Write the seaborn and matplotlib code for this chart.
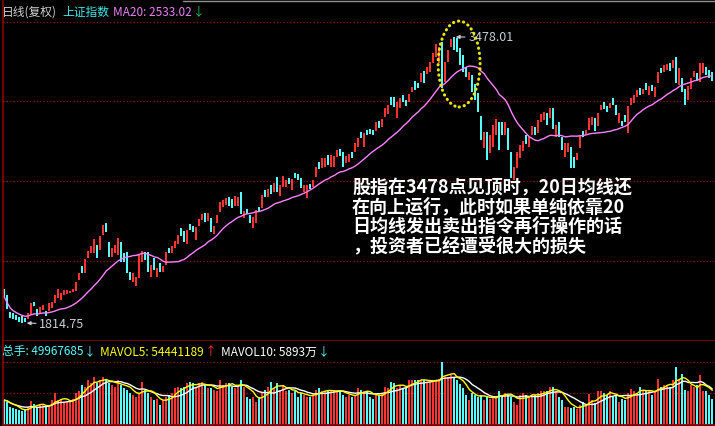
import matplotlib
matplotlib.use("Agg")
import matplotlib.pyplot as plt
from matplotlib.patches import Ellipse
from matplotlib.lines import Line2D
import pandas as pd
import seaborn as sns

# daily candles (Shanghai composite, adjusted)
opens = [
    2013, 1978, 1879, 1873, 1862, 1850, 1856, 1844, 1838, 1862,
    1937, 1896, 1873, 1891, 1885, 1885, 1902, 1931, 1960, 1949,
    1978, 1984, 1989, 1995, 2001, 2065, 2146, 2106, 2193, 2222,
    2222, 2269, 2239, 2327, 2396, 2286, 2199, 2222, 2210, 2286,
    2222, 2228, 2111, 2053, 2030, 2077, 2170, 2228, 2228, 2082,
    2193, 2082, 2164, 2111, 2152, 2251, 2222, 2251, 2274, 2367,
    2350, 2274, 2391, 2379, 2298, 2379, 2414, 2455, 2408, 2426,
    2333, 2396, 2460, 2490, 2501, 2548, 2536, 2495, 2495, 2577,
    2426, 2478, 2443, 2367, 2396, 2490, 2484, 2588, 2548, 2617,
    2577, 2664, 2553, 2606, 2606, 2658, 2588, 2687, 2681, 2658,
    2577, 2542, 2623, 2606, 2664, 2751, 2716, 2722, 2792, 2722,
    2722, 2780, 2827, 2809, 2745, 2751, 2809, 2809, 2838, 2926,
    2838, 2937, 2943, 2937, 2931, 2990, 2955, 3013, 3030, 3129,
    3129, 3007, 3065, 3141, 3112, 3100, 3158, 3222, 3211, 3216,
    3280, 3263, 3275, 3327, 3362, 3327, 3449, 3216, 3333, 3420,
    3478, 3472, 3414, 3373, 3304, 3228, 3257, 3205, 3152, 3019,
    2833, 2926, 2804, 2838, 2908, 2984, 2984, 2908, 2949, 2809,
    2646, 2716, 2775, 2815, 2908, 2838, 2908, 2955, 2920, 2984,
    2995, 3036, 3007, 3065, 2897, 2984, 2897, 2780, 2809, 2838,
    2780, 2763, 2833, 2931, 2908, 2937, 2966, 3007, 2961, 3054,
    3100, 3077, 3065, 3123, 3083, 2978, 2990, 3024, 2920, 3083,
    3094, 3129, 3182, 3147, 3211, 3141, 3199, 3129, 3211, 3298,
    3275, 3286, 3327, 3298, 3362, 3199, 3240, 3176, 3112, 3176,
    3245, 3269, 3216, 3269, 3304, 3286, 3275,
]
closes = [
    1966, 1896, 1844, 1838, 1832, 1821, 1815, 1818, 1873, 1931,
    1914, 1856, 1908, 1920, 1856, 1931, 1937, 1978, 2013, 1989,
    2007, 2007, 2001, 2013, 2053, 2106, 2106, 2187, 2234, 2263,
    2303, 2193, 2321, 2385, 2344, 2199, 2251, 2269, 2309, 2170,
    2170, 2106, 2065, 2106, 2082, 2210, 2234, 2181, 2111, 2152,
    2123, 2135, 2111, 2146, 2228, 2222, 2263, 2292, 2327, 2321,
    2286, 2356, 2356, 2344, 2373, 2420, 2449, 2402, 2455, 2344,
    2379, 2443, 2519, 2530, 2542, 2495, 2484, 2553, 2548, 2449,
    2466, 2449, 2396, 2431, 2472, 2460, 2559, 2548, 2594, 2565,
    2629, 2577, 2617, 2670, 2646, 2623, 2652, 2658, 2646, 2600,
    2617, 2617, 2594, 2646, 2722, 2711, 2775, 2775, 2734, 2792,
    2786, 2821, 2786, 2722, 2786, 2798, 2775, 2862, 2891, 2891,
    2920, 2908, 2914, 2908, 2984, 2949, 3001, 3065, 3083, 3083,
    3071, 3100, 3123, 3100, 3077, 3147, 3187, 3170, 3182, 3269,
    3211, 3304, 3333, 3385, 3437, 3420, 3182, 3333, 3402, 3466,
    3402, 3391, 3315, 3275, 3245, 3275, 3158, 3112, 3042, 2879,
    2926, 2763, 2908, 2966, 3001, 2821, 2908, 2984, 2821, 2658,
    2722, 2809, 2850, 2873, 2856, 2897, 2961, 2908, 2995, 3030,
    3042, 2966, 3065, 2943, 2966, 2897, 2821, 2862, 2862, 2716,
    2716, 2804, 2902, 2897, 2937, 3007, 3013, 2931, 3036, 3083,
    3059, 3042, 3094, 3083, 3024, 3036, 2961, 2984, 3077, 3123,
    3141, 3170, 3141, 3176, 3170, 3193, 3164, 3187, 3275, 3269,
    3315, 3321, 3280, 3344, 3211, 3298, 3158, 3083, 3193, 3240,
    3280, 3228, 3327, 3327, 3257, 3240, 3222,
]
# volume, millions of lots
volumes = [
    46, 43, 34, 31, 29, 28, 25, 28, 34, 45,
    39, 34, 37, 37, 33, 37, 46, 59, 46, 49,
    43, 43, 43, 49, 59, 62, 74, 71, 83, 77,
    89, 77, 83, 89, 83, 77, 74, 71, 83, 74,
    68, 65, 59, 56, 52, 59, 80, 65, 59, 52,
    46, 49, 37, 46, 52, 56, 59, 68, 71, 68,
    71, 77, 80, 77, 68, 77, 80, 74, 68, 68,
    65, 62, 83, 74, 77, 77, 71, 68, 74, 83,
    71, 52, 49, 52, 43, 52, 59, 65, 71, 80,
    68, 77, 65, 74, 62, 65, 59, 62, 52, 59,
    56, 52, 52, 56, 65, 68, 62, 62, 62, 65,
    65, 62, 62, 56, 52, 56, 52, 56, 68, 65,
    62, 62, 52, 49, 56, 56, 59, 71, 68, 80,
    78, 68, 74, 68, 68, 84, 83, 83, 83, 84,
    84, 80, 80, 80, 84, 86, 116, 89, 89, 92,
    89, 83, 76, 68, 56, 46, 59, 56, 52, 56,
    46, 52, 49, 52, 52, 62, 56, 59, 56, 52,
    43, 37, 56, 59, 56, 52, 56, 56, 59, 62,
    62, 62, 70, 71, 62, 52, 46, 34, 33, 31,
    34, 29, 37, 43, 37, 57, 46, 40, 62, 62,
    59, 56, 62, 52, 56, 43, 49, 46, 59, 66,
    62, 59, 70, 65, 62, 62, 56, 62, 86, 71,
    74, 74, 71, 83, 108, 83, 94, 65, 62, 74,
    71, 74, 92, 62, 62, 56, 49,
]

peak_label = "3478.01"
low_label = "1814.75"
top_labels = [("日线(复权)", "#d0d0d0"), ("上证指数", "#40e8e8"), ("MA20: 2533.02", "#e880f0"), ("↓", "#20c060")]
vol_labels = [("总手: 49967685", "#54fcfc"), ("↓", "#54fcfc"), ("MAVOL5: 54441189", "#ffff00"),
              ("↑", "#ff3232"), ("MAVOL10: 5893万", "#ffffff"), ("↓", "#54fcfc")]
note_lines = [
    "股指在3478点见顶时，20日均线还",
    "在向上运行，此时如果单纯依靠20",
    "日均线发出卖出指令再行操作的话",
    "，投资者已经遭受很大的损失",
]

UP = "#ff3232"
DOWN = "#54fcfc"

df = pd.DataFrame({"open": opens, "close": closes, "volume": volumes})
df["day"] = range(len(df))
df["dir"] = ["up" if c >= o else "down" for o, c in zip(df.open, df.close)]
df["ma20"] = df.close.rolling(20, min_periods=1).mean()
df["mavol5"] = df.volume.rolling(5, min_periods=1).mean()
df["mavol10"] = df.volume.rolling(10, min_periods=1).mean()

sns.set_theme(style="dark", rc={"axes.facecolor": "black", "figure.facecolor": "black"})
plt.rcParams["font.family"] = ["Noto Sans CJK SC", "DejaVu Sans"]

W, H = 715, 426
fig = plt.figure(figsize=(W / 100, H / 100), dpi=100)


def px_rect(x0, y0, x1, y1):
    return [x0 / W, 1 - y1 / H, (x1 - x0) / W, (y1 - y0) / H]


ax = fig.add_axes(px_rect(3, 0, 715, 341))
vax = fig.add_axes(px_rect(3, 341, 715, 425))

# candles
colors = [UP if d == "up" else DOWN for d in df.dir]
bottoms = df[["open", "close"]].min(axis=1)
heights = (df.close - df.open).abs()
ax.bar(df.day, heights, bottom=bottoms, width=0.66, color=colors, linewidth=0, zorder=2)
sns.lineplot(x=df.day, y=df.ma20, ax=ax, color="#ff80ff", lw=1, zorder=3)

ax.set_xlim(-0.43, 236.9)
ax.set_ylim(1710.3, 3693.2)

# dotted guide lines
for f in [0.9355, 0.7038, 0.4692, 0.2346]:
    ax.plot([0, 1], [f, f], transform=ax.transAxes, color="#b00000", ls=(0, (1, 2)), lw=0.8, zorder=0)

arrow = dict(arrowstyle="-|>,head_length=0.25,head_width=0.12", color="#c8ccd4", lw=0.8,
             shrinkA=0, shrinkB=1)
ax.annotate(peak_label, xy=(150, 3478.01), xytext=(14, 0), textcoords="offset pixels",
            ha="left", va="center", color="#c8ccd4", fontsize=9, arrowprops=arrow)
ax.annotate(low_label, xy=(7, 1814.75), xytext=(14, -1), textcoords="offset pixels",
            ha="left", va="center", color="#c8ccd4", fontsize=9, arrowprops=arrow)

ax.add_patch(Ellipse((151.6, 3321), width=14, height=500, fill=False, edgecolor="#e8e800",
                     lw=2.2, ls=(0, (0.1, 1.6)), capstyle="round", zorder=4))

# volume panel
sns.barplot(data=df, x="day", y="volume", hue="dir", palette={"up": UP, "down": DOWN},
            dodge=False, width=0.66, saturation=1, linewidth=0, legend=False, ax=vax)
sns.lineplot(x=df.day, y=df.mavol10, ax=vax, color="white", lw=1)
sns.lineplot(x=df.day, y=df.mavol5, ax=vax, color="#ffff00", lw=1)
vax.set_xlim(-0.43, 236.9)
vax.set_ylim(0, 155.4)
for f in [0.75, 0.381]:
    vax.plot([0, 1], [f, f], transform=vax.transAxes, color="#b00000", ls=(0, (1, 2)), lw=0.8, zorder=0)

for a in (ax, vax):
    a.set_xticks([])
    a.set_yticks([])
    a.set_xlabel("")
    a.set_ylabel("")
    a.grid(False)
    for s in ("top", "right"):
        a.spines[s].set_visible(False)
    for s in ("left", "bottom"):
        a.spines[s].set_color("#8c0000")
        a.spines[s].set_linewidth(1.2)

fig.add_artist(Line2D([183 / W, 1], [1 - 0.8 / H, 1 - 0.8 / H], color="#909090", lw=1))

renderer = fig.canvas.get_renderer()


def text_row(items, x, y, gaps, size):
    # lay out coloured pieces one after another, like the trading software does
    for (txt, col), gap in zip(items, gaps):
        t = fig.text(x / W, 1 - y / H, txt, color=col, fontsize=size, ha="left", va="center")
        x = t.get_window_extent(renderer).x1 + gap


text_row(top_labels, 2, 12, [5, 4, 1, 0], 8.5)
text_row(vol_labels, 2, 352, [0, 5, 1, 4, 1, 0], 8.5)

for i, line in enumerate(note_lines):
    fig.text(352 / W, 1 - (187 + 19.5 * i) / H, line, color="white", fontsize=13,
             fontweight="bold", ha="left", va="center")

fig.savefig("out.png", dpi=100, facecolor="black")
